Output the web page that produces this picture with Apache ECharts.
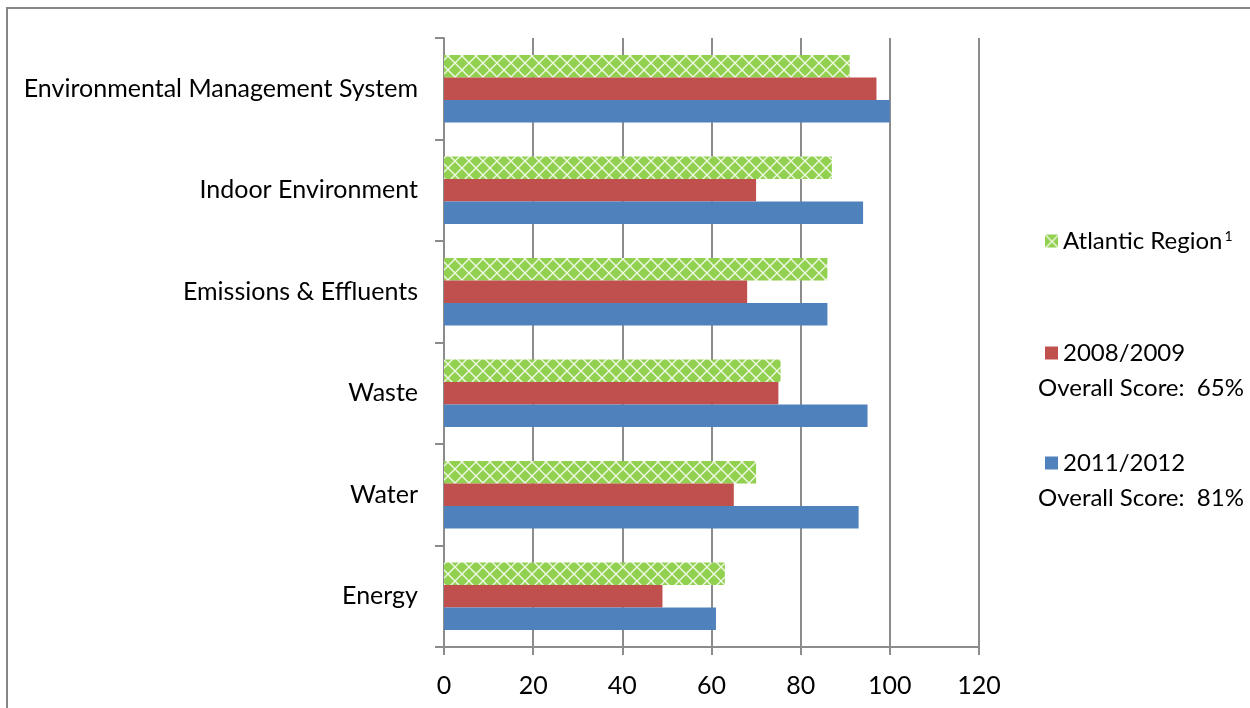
<!DOCTYPE html>
<html>
<head>
<meta charset="utf-8">
<script src="https://cdn.jsdelivr.net/npm/echarts@6/dist/echarts.min.js"></script>
<style>
  html, body { margin: 0; padding: 0; background: #ffffff; }
  #chart { width: 1250px; height: 708px; }
</style>
</head>
<body>
<div id="chart"></div>
<script>
// Categories, bottom to top on the vertical axis
const categories = ['Energy', 'Water', 'Waste', 'Emissions & Effluents', 'Indoor Environment', 'Environmental Management System'];
// Scores per category (%)
const atlanticRegion = [63, 70, 75.5, 86, 87, 91];
const score2008 = [49, 65, 75, 68, 70, 97];
const score2011 = [61, 93, 95, 86, 94, 100];
const seriesNames = ['Atlantic Region', '2008/2009', '2011/2012'];
const overallScores = ['Overall Score:  65%', 'Overall Score:  81%'];
const xTicks = [0, 20, 40, 60, 80, 100, 120];

const FONT = 'Lato';
const AXIS_GRAY = '#8c8c8c';

// Green fill with a white diagonal lattice
function latticePattern() {
  const s = 14;
  const c = document.createElement('canvas');
  c.width = s; c.height = s;
  const ctx = c.getContext('2d');
  ctx.fillStyle = '#92d050';
  ctx.fillRect(0, 0, s, s);
  ctx.strokeStyle = 'rgba(255,255,255,0.85)';
  ctx.lineWidth = 1.4;
  ctx.beginPath();
  ctx.moveTo(-1, -1); ctx.lineTo(s + 1, s + 1);
  ctx.moveTo(s + 1, -1); ctx.lineTo(-1, s + 1);
  ctx.stroke();
  return { image: c, repeat: 'repeat' };
}
const lattice = latticePattern();

const chart = echarts.init(document.getElementById('chart'), null, { renderer: 'canvas' });

const legendText = {
  fontFamily: FONT, fontSize: 24, color: '#000',
  rich: {
    a: { fontFamily: FONT, fontSize: 24, color: '#000' },
    s: { fontFamily: FONT, fontSize: 14, color: '#000', verticalAlign: 'top', padding: [0, 0, 0, 2] }
  }
};

function legendAt(name, top) {
  return {
    data: [name], orient: 'vertical', left: 1045, top: top,
    itemWidth: 13, itemHeight: 13, itemGap: 8, padding: 0,
    icon: 'rect', selectedMode: false,
    textStyle: legendText,
    formatter: n => n === seriesNames[0] ? '{a|' + n + '}{s|1}' : n
  };
}

chart.setOption({
  animation: false,
  backgroundColor: '#ffffff',
  grid: { left: 444, right: 271, top: 38, bottom: 61, containLabel: false },
  legend: [
    legendAt(seriesNames[0], 229),
    legendAt(seriesNames[1], 341),
    legendAt(seriesNames[2], 451)
  ],
  xAxis: {
    type: 'value',
    min: xTicks[0], max: xTicks[xTicks.length - 1],
    interval: xTicks[1] - xTicks[0],
    axisLine: { show: true, lineStyle: { color: AXIS_GRAY, width: 2 } },
    axisTick: { show: true, length: 8, lineStyle: { color: AXIS_GRAY, width: 2 } },
    splitLine: { show: true, lineStyle: { color: AXIS_GRAY, width: 2 } },
    axisLabel: { margin: 26, fontFamily: FONT, fontSize: 25, color: '#000' }
  },
  yAxis: {
    type: 'category',
    data: categories,
    axisLine: { show: true, lineStyle: { color: AXIS_GRAY, width: 2 } },
    axisTick: { show: true, length: 9, alignWithLabel: false, lineStyle: { color: AXIS_GRAY, width: 2 } },
    axisLabel: { margin: 26, fontFamily: FONT, fontSize: 25, color: '#000' },
    splitLine: { show: false }
  },
  series: [
    {
      name: seriesNames[0], type: 'bar', data: atlanticRegion,
      barGap: '0%', barCategoryGap: '33.4%',
      itemStyle: { color: lattice }
    },
    {
      name: seriesNames[1], type: 'bar', data: score2008,
      barGap: '0%', barCategoryGap: '33.4%',
      itemStyle: { color: '#c0504d' }
    },
    {
      name: seriesNames[2], type: 'bar', data: score2011,
      barGap: '0%', barCategoryGap: '33.4%',
      itemStyle: { color: '#4f81bd' }
    }
  ],
  graphic: [
    {
      type: 'rect', silent: true, z: -10,
      shape: { x: 7, y: 8, width: 1400, height: 900 },
      style: { fill: 'none', stroke: '#868686', lineWidth: 2 }
    },
    {
      type: 'text', silent: true, x: 1038, y: 388,
      style: { text: overallScores[0], fontFamily: FONT, fontSize: 24, fill: '#000', verticalAlign: 'middle' }
    },
    {
      type: 'text', silent: true, x: 1038, y: 498,
      style: { text: overallScores[1], fontFamily: FONT, fontSize: 24, fill: '#000', verticalAlign: 'middle' }
    }
  ]
});
</script>
</body>
</html>
